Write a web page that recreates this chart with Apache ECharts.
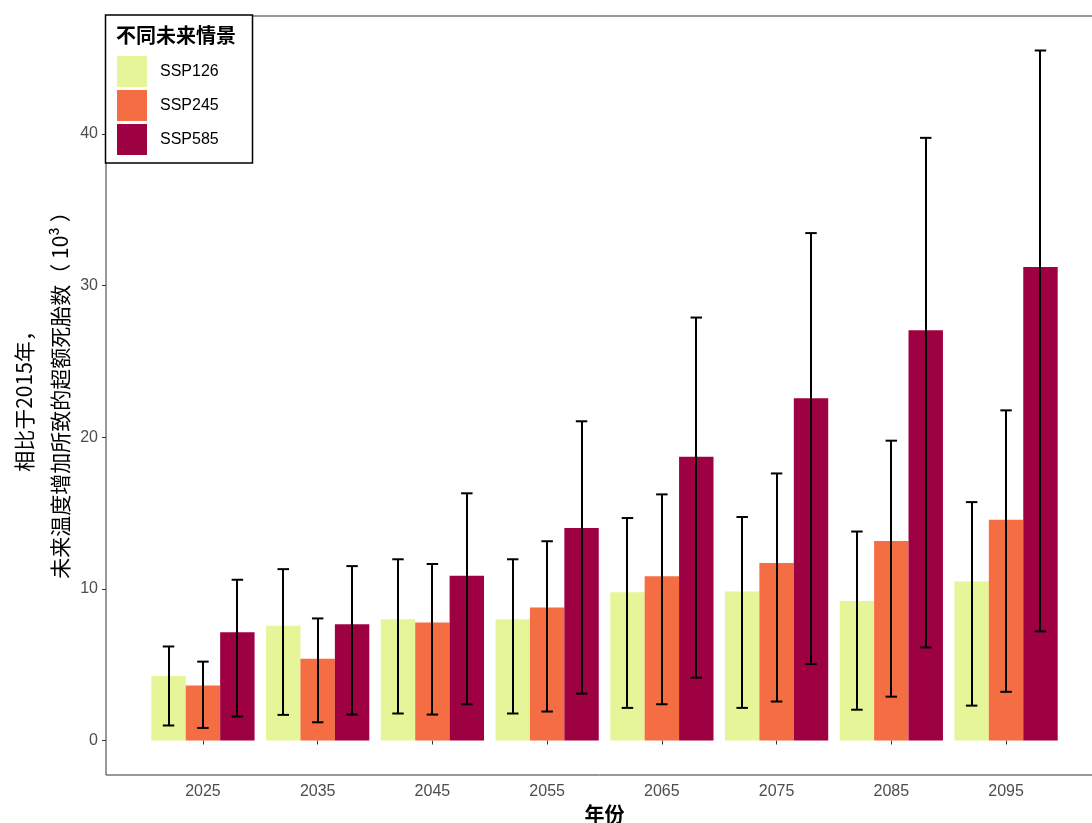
<!DOCTYPE html>
<html>
<head>
<meta charset="utf-8">
<script src="https://cdn.jsdelivr.net/npm/echarts@6/dist/echarts.min.js"></script>
<style>
  html, body { margin: 0; padding: 0; background: #ffffff; }
  #chart { width: 1092px; height: 823px; }
</style>
</head>
<body>
<div id="chart"></div>
<script>
// Years on the x axis
const years = [2025, 2035, 2045, 2055, 2065, 2075, 2085, 2095];

// Excess stillbirths (thousands) relative to 2015, mean with lower / upper bounds
const ssp126   = [4.26, 7.57, 8.00, 8.00, 9.78, 9.82, 9.20, 10.49];
const ssp126Lo = [0.99, 1.69, 1.78, 1.78, 2.15, 2.15, 2.03, 2.30];
const ssp126Hi = [6.20, 11.30, 11.95, 11.95, 14.67, 14.74, 13.78, 15.72];

const ssp245   = [3.62, 5.39, 7.78, 8.77, 10.83, 11.71, 13.16, 14.55];
const ssp245Lo = [0.83, 1.20, 1.71, 1.91, 2.39, 2.57, 2.89, 3.21];
const ssp245Hi = [5.20, 8.05, 11.64, 13.14, 16.23, 17.61, 19.77, 21.77];

const ssp585   = [7.13, 7.67, 10.86, 14.01, 18.71, 22.57, 27.06, 31.23];
const ssp585Lo = [1.58, 1.71, 2.39, 3.09, 4.14, 5.04, 6.14, 7.20];
const ssp585Hi = [10.60, 11.50, 16.30, 21.05, 27.89, 33.46, 39.74, 45.50];

const scenarioNames = ['SSP126', 'SSP245', 'SSP585'];
const yTicks = [0, 10, 20, 30, 40];

const colors = ['#E6F598', '#F46D43', '#9E0142'];
const means = [ssp126, ssp245, ssp585];
const lows = [ssp126Lo, ssp245Lo, ssp585Lo];
const highs = [ssp126Hi, ssp245Hi, ssp585Hi];

// dodge layout: each group is 9 years wide, split in three bars
const groupWidth = 9;
const barW = groupWidth / 3;
const capHalf = 0.5;

// axis extents with 5% padding on each side
const xLo = years[0] - groupWidth / 2;
const xHi = years[years.length - 1] + groupWidth / 2;
const xPad = (xHi - xLo) * 0.05;
const yTop = Math.max(...ssp585Hi, ...ssp245Hi, ...ssp126Hi);
const yPad = yTop * 0.05;

const chart = echarts.init(document.getElementById('chart'), null, { renderer: 'canvas' });

const series = scenarioNames.map((name, s) => {
  const offset = (s - 1) * barW;
  return {
    name: name,
    type: 'custom',
    itemStyle: { color: colors[s] },
    data: years.map((yr, i) => [yr + offset, means[s][i], lows[s][i], highs[s][i]]),
    renderItem: function (params, api) {
      const x = api.value(0);
      const v = api.value(1);
      const lo = api.value(2);
      const hi = api.value(3);
      const p0 = api.coord([x - barW / 2, v]);
      const p1 = api.coord([x + barW / 2, 0]);
      const c = api.coord([x, 0]);
      const pLo = api.coord([x - capHalf, lo]);
      const pHi = api.coord([x + capHalf, hi]);
      const cx = Math.round(c[0]);
      return {
        type: 'group',
        children: [
          {
            type: 'rect',
            shape: { x: p0[0], y: p0[1], width: p1[0] - p0[0], height: p1[1] - p0[1] },
            style: { fill: colors[s] }
          },
          {
            type: 'line',
            shape: { x1: cx, y1: pHi[1], x2: cx, y2: pLo[1] },
            style: { stroke: '#000', lineWidth: 2 }
          },
          {
            type: 'line',
            shape: { x1: pLo[0], y1: pHi[1], x2: pHi[0], y2: pHi[1] },
            style: { stroke: '#000', lineWidth: 2 }
          },
          {
            type: 'line',
            shape: { x1: pLo[0], y1: pLo[1], x2: pHi[0], y2: pLo[1] },
            style: { stroke: '#000', lineWidth: 2 }
          }
        ]
      };
    }
  };
});

const fontLatin = '"Liberation Sans", Arial, "Noto Sans CJK SC", sans-serif';
const fontCJK = '"Noto Sans CJK SC", "Liberation Sans", sans-serif';

const option = {
  backgroundColor: '#ffffff',
  animation: false,
  grid: {
    left: 106,
    top: 16,
    right: -11,
    bottom: 48,
    outerBoundsMode: 'none',
    containLabel: false,
    show: true,
    borderColor: '#333333',
    borderWidth: 1,
    backgroundColor: 'transparent'
  },
  xAxis: {
    type: 'value',
    min: xLo - xPad,
    max: xHi + xPad,
    splitLine: { show: false },
    axisLine: { show: false },
    axisTick: { show: true, customValues: years, length: 4, lineStyle: { color: '#333333' } },
    axisLabel: {
      customValues: years,
      formatter: (v) => String(v),
      color: '#4d4d4d',
      fontSize: 16,
      fontFamily: fontLatin,
      margin: 9
    },
    name: '年份',
    nameLocation: 'middle',
    nameGap: 28,
    nameTextStyle: { fontSize: 20, fontWeight: 'bold', color: '#000', fontFamily: fontCJK }
  },
  yAxis: {
    type: 'value',
    min: -yPad,
    max: yTop + yPad,
    splitLine: { show: false },
    axisLine: { show: false },
    axisTick: { show: true, customValues: yTicks, length: 4, lineStyle: { color: '#333333' } },
    axisLabel: {
      customValues: yTicks,
      formatter: (v) => String(v),
      color: '#4d4d4d',
      fontSize: 16,
      fontFamily: fontLatin,
      margin: 8
    }
  },
  legend: {
    orient: 'vertical',
    left: 117,
    top: 56,
    padding: 0,
    itemWidth: 30,
    itemHeight: 31,
    itemGap: 3,
    icon: 'rect',
    z: 10,
    data: scenarioNames,
    textStyle: { fontSize: 16, color: '#000', fontFamily: fontLatin, padding: [0, 0, 0, 8] }
  },
  graphic: [
    {
      type: 'rect',
      z: 5,
      shape: { x: 105.5, y: 15, width: 147, height: 148 },
      style: { fill: '#ffffff', stroke: '#000000', lineWidth: 1.5 }
    },
    {
      type: 'text',
      z: 10,
      x: 116,
      y: 35,
      style: {
        text: '不同未来情景',
        font: 'bold 20px ' + fontCJK,
        fill: '#000',
        textAlign: 'left',
        textVerticalAlign: 'middle'
      }
    },
    {
      type: 'text',
      z: 10,
      x: 24,
      y: 396,
      rotation: Math.PI / 2,
      style: {
        text: '相比于2015年，',
        font: '21px ' + fontCJK,
        fill: '#000',
        textAlign: 'center',
        textVerticalAlign: 'middle'
      }
    },
    {
      type: 'text',
      z: 10,
      x: 60,
      y: 390,
      rotation: Math.PI / 2,
      style: {
        text: '未来温度增加所致的超额死胎数（ 10³ ）',
        font: '21px ' + fontCJK,
        fill: '#000',
        textAlign: 'center',
        textVerticalAlign: 'middle'
      }
    }
  ],
  series: series
};

chart.setOption(option);
</script>
</body>
</html>
